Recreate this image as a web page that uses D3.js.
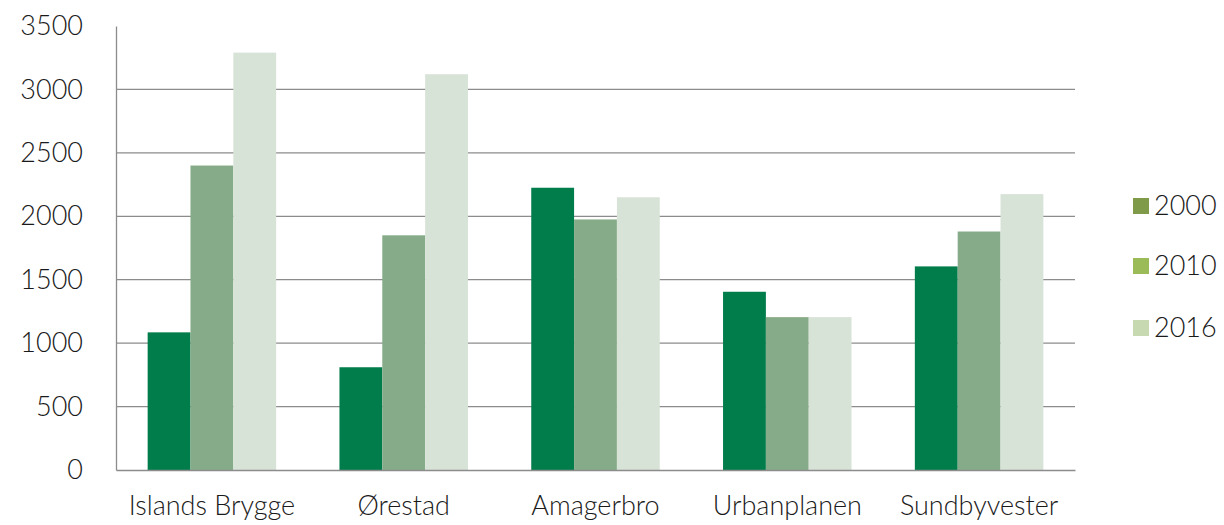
<!DOCTYPE html>
<meta charset="utf-8">
<script src="https://d3js.org/d3.v7.min.js"></script>
<style>
  body { margin: 0; background: #fff; }
  text { font-family: "Lato", "Open Sans", sans-serif; font-weight: 300; fill: #1a1a1a; }
</style>
<div id="my_dataviz"></div>
<script>

    // data
    var categories = ["Islands Brygge", "Ørestad", "Amagerbro", "Urbanplanen", "Sundbyvester"];
    var years = ["2000", "2010", "2016"];
    var values2000 = [1085, 810, 2225, 1405, 1605];
    var values2010 = [2400, 1850, 1975, 1205, 1880];
    var values2016 = [3290, 3120, 2150, 1205, 2175];
    var yTicks = [0, 500, 1000, 1500, 2000, 2500, 3000, 3500];

    var barColors = ["#007d4b", "#86ab88", "#d8e3d8"];
    var legendColors = ["#7f9a48", "#9bbb59", "#c6d9b0"];

    var series = [values2000, values2010, values2016];

    var margin = {top: 26, right: 149, bottom: 55, left: 116},
        width = 1224 - margin.left - margin.right,
        height = 525 - margin.top - margin.bottom;

    var svg = d3.select("#my_dataviz")
        .append("svg")
        .attr("width", 1224)
        .attr("height", 525)
        .append("g")
        .attr("transform", "translate(" + margin.left + "," + margin.top + ")");

    // scales
    var x = d3.scaleBand()
        .domain(categories)
        .range([0, width])
        .paddingInner(0.33)
        .paddingOuter(0.165);

    var xSub = d3.scaleBand()
        .domain(years)
        .range([0, x.bandwidth()]);

    var y = d3.scaleLinear()
        .domain([0, 3500])
        .range([height, 0]);

    // grid lines
    svg.append("g")
        .selectAll("line")
        .data(yTicks.filter(function (d) { return d > 0 && d < 3500; }))
        .enter()
        .append("line")
        .attr("x1", 0)
        .attr("x2", width)
        .attr("y1", function (d) { return y(d); })
        .attr("y2", function (d) { return y(d); })
        .attr("stroke", "#8c8c8c")
        .attr("stroke-width", 1.3);

    // bars
    var groups = svg.append("g")
        .selectAll("g")
        .data(categories)
        .enter()
        .append("g")
        .attr("transform", function (d) { return "translate(" + x(d) + ",0)"; });

    groups.selectAll("rect")
        .data(function (d, i) {
            return years.map(function (yr, j) { return {year: yr, value: series[j][i], idx: j}; });
        })
        .enter()
        .append("rect")
        .attr("x", function (d) { return xSub(d.year); })
        .attr("width", xSub.bandwidth())
        .attr("y", function (d) { return y(d.value); })
        .attr("height", function (d) { return height - y(d.value); })
        .attr("fill", function (d) { return barColors[d.idx]; });

    // Y axis
    var yAxis = svg.append("g")
        .call(d3.axisLeft(y).tickValues(yTicks).tickFormat(d3.format("d")).tickSize(0).tickPadding(33));
    yAxis.select(".domain").attr("stroke", "#8c8c8c").attr("stroke-width", 1.3);
    yAxis.selectAll("text").style("font-size", "27px");

    // X axis
    var xAxis = svg.append("g")
        .attr("transform", "translate(0," + height + ")")
        .call(d3.axisBottom(x).tickSize(0).tickPadding(26));
    xAxis.select(".domain").attr("stroke", "#8c8c8c").attr("stroke-width", 1.3);
    xAxis.selectAll("text").style("font-size", "27px");

    // legend
    var legend = svg.append("g")
        .attr("transform", "translate(" + (width + 58) + ",0)");

    var legendY = [180, 240, 302];
    years.forEach(function (yr, i) {
        legend.append("rect")
            .attr("x", 0)
            .attr("y", legendY[i] - 8)
            .attr("width", 16)
            .attr("height", 16)
            .attr("fill", legendColors[i]);
        legend.append("text")
            .attr("x", 21)
            .attr("y", legendY[i])
            .attr("dy", "0.35em")
            .style("font-size", "27px")
            .text(yr);
    });

</script>
